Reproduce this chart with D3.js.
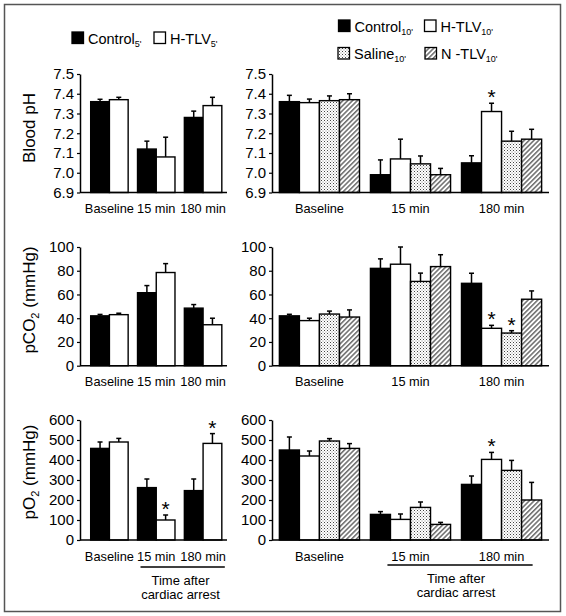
<!DOCTYPE html>
<html><head><meta charset="utf-8">
<script src="https://cdn.jsdelivr.net/npm/d3@7"></script>
<style>body{margin:0;background:#fff}svg{display:block}text{font-family:"Liberation Sans",Arial,sans-serif;fill:#000}</style>
</head><body><svg id="c" width="566" height="616"></svg>
<script>
const groups = ["Baseline", "15 min", "180 min"];
const seriesLeft = ["Control5", "HTLV5"];
const seriesRight = ["Control10", "HTLV10", "Saline10", "NTLV10"];

// Blood pH
const phControl5 = [7.36, 7.12, 7.28], phControl5Err = [0.012, 0.04, 0.032];
const phHTLV5 = [7.37, 7.08, 7.34], phHTLV5Err = [0.012, 0.10, 0.042];
const phControl10 = [7.36, 6.99, 7.05], phControl10Err = [0.032, 0.075, 0.036];
const phHTLV10 = [7.355, 7.07, 7.31], phHTLV10Err = [0.018, 0.10, 0.042];
const phSaline10 = [7.365, 7.045, 7.16], phSaline10Err = [0.024, 0.04, 0.05];
const phNTLV10 = [7.37, 6.99, 7.17], phNTLV10Err = [0.03, 0.032, 0.05];
// pCO2
const co2Control5 = [42, 61.5, 48.5], co2Control5Err = [1.2, 6, 3];
const co2HTLV5 = [43, 78.5, 34.5], co2HTLV5Err = [1.2, 7.5, 5.5];
const co2Control10 = [42, 82, 69.4], co2Control10Err = [1.3, 8, 8.5];
const co2HTLV10 = [38, 85.5, 31.5], co2HTLV10Err = [2, 14.5, 2.5];
const co2Saline10 = [43.5, 71, 27.5], co2Saline10Err = [2.5, 7, 2];
const co2NTLV10 = [41, 83.5, 56], co2NTLV10Err = [6, 10, 7];
// pO2
const o2Control5 = [458, 262, 247], o2Control5Err = [32, 43, 58];
const o2HTLV5 = [490, 100, 483], o2HTLV5Err = [18, 25, 49];
const o2Control10 = [450, 128, 278], o2Control10Err = [65, 14, 42];
const o2HTLV10 = [420, 103, 403], o2HTLV10Err = [25, 27, 35];
const o2Saline10 = [495, 163, 348], o2Saline10Err = [12, 27, 50];
const o2NTLV10 = [458, 78, 200], o2NTLV10Err = [24, 10, 88];

// significance stars: [series, group]
const starsPhRight = [["HTLV10", "180 min"]];
const starsCo2Right = [["HTLV10", "180 min"], ["Saline10", "180 min"]];
const starsO2Left = [["HTLV5", "15 min"], ["HTLV5", "180 min"]];
const starsO2Right = [["HTLV10", "180 min"]];

const phTicks = [6.9, 7.0, 7.1, 7.2, 7.3, 7.4, 7.5];
const co2Ticks = [0, 20, 40, 60, 80, 100];
const o2Ticks = [0, 100, 200, 300, 400, 500, 600];

const svg = d3.select("#c");
const defs = svg.append("defs");
const dots = defs.append("pattern").attr("id", "dots").attr("patternUnits", "userSpaceOnUse").attr("width", 3).attr("height", 3);
dots.append("rect").attr("width", 3).attr("height", 3).attr("fill", "#fff");
dots.append("rect").attr("x", 0).attr("y", 0).attr("width", 1).attr("height", 1).attr("fill", "#444");
dots.append("rect").attr("x", 1.5).attr("y", 1.5).attr("width", 1).attr("height", 1).attr("fill", "#888");
const hatch = defs.append("pattern").attr("id", "hatch").attr("patternUnits", "userSpaceOnUse").attr("width", 3.4).attr("height", 3.4).attr("patternTransform", "rotate(45)");
hatch.append("rect").attr("width", 3.4).attr("height", 3.4).attr("fill", "#fff");
hatch.append("line").attr("x1", 0.8).attr("y1", 0).attr("x2", 0.8).attr("y2", 3.4).attr("stroke", "#333").attr("stroke-width", 1.1);

const fills = {Control5: "#000", HTLV5: "#fff", Control10: "#000", HTLV10: "#fff", Saline10: "url(#dots)", NTLV10: "url(#hatch)"};

// outer border
svg.append("rect").attr("x", 4.5).attr("y", 4.5).attr("width", 556).attr("height", 607).attr("fill", "none").attr("stroke", "#555").attr("stroke-width", 1.5);

function panel(opt) {
  const g = svg.append("g");
  const y = d3.scaleLinear().domain(opt.domain).range([opt.yBottom, opt.yTop]);
  const x0 = d3.scaleBand().domain(groups).range(opt.xRange).paddingInner(opt.pi).paddingOuter(opt.po);
  const x1 = d3.scaleBand().domain(opt.series).range([0, x0.bandwidth()]);
  const yAxis = d3.axisLeft(y).tickValues(opt.ticks).tickSizeInner(3).tickSizeOuter(0).tickPadding(3).tickFormat(opt.fmt);
  const ag = g.append("g").attr("transform", `translate(${opt.axisX},0)`).call(yAxis);
  ag.selectAll("text").style("font-size", "15px").attr("fill", "#000");
  ag.selectAll("line").attr("stroke", "#000").attr("stroke-width", 1.2);
  ag.select(".domain").attr("stroke", "#000").attr("stroke-width", 1.5);
  // bars
  opt.series.forEach((s, si) => {
    const vals = opt.values[si], errs = opt.errs[si];
    groups.forEach((gr, gi) => {
      const bx = x0(gr) + x1(s), bw = x1.bandwidth();
      const top = y(vals[gi]), et = y(vals[gi] + errs[gi]);
      const cx = bx + bw / 2;
      g.append("line").attr("x1", cx).attr("x2", cx).attr("y1", top).attr("y2", et).attr("stroke", "#000").attr("stroke-width", 1.5);
      g.append("line").attr("x1", cx - 2.5).attr("x2", cx + 2.5).attr("y1", et).attr("y2", et).attr("stroke", "#000").attr("stroke-width", 1.5);
      g.append("rect").attr("x", bx).attr("y", top).attr("width", bw).attr("height", opt.yBottom - top)
        .attr("fill", fills[s]).attr("stroke", "#000").attr("stroke-width", 1.4);
    });
  });
  // x baseline
  g.append("line").attr("x1", opt.axisX).attr("x2", opt.axisEnd).attr("y1", opt.yBottom).attr("y2", opt.yBottom).attr("stroke", "#000").attr("stroke-width", 1.6);
  // stars
  opt.stars.forEach(([s, gr]) => {
    const si = opt.series.indexOf(s), gi = groups.indexOf(gr);
    const v = opt.values[si][gi] + opt.errs[si][gi];
    g.append("text").attr("x", x0(gr) + x1(s) + x1.bandwidth() / 2).attr("y", y(v) + 1)
      .attr("text-anchor", "middle").style("font-size", "21px").text("*");
  });
  // x labels
  groups.forEach(gr => {
    g.append("text").attr("x", x0(gr) + x0.bandwidth() / 2).attr("y", opt.yBottom + 20.5)
      .attr("text-anchor", "middle").style("font-size", "12.8px").text(gr);
  });
  return {x0, y};
}

const leftX = {xRange: [86, 226.5], pi: 0.2, po: 0.1, axisX: 80, axisEnd: 227, series: seriesLeft};
const rightX = {xRange: [273, 548], pi: 0.12, po: 0.07, axisX: 272, axisEnd: 549, series: seriesRight};
const phRow = {domain: [6.9, 7.5], yTop: 74, yBottom: 192.5, ticks: phTicks, fmt: d3.format(".1f")};
const co2Row = {domain: [0, 100], yTop: 247, yBottom: 365.7, ticks: co2Ticks, fmt: d3.format("d")};
const o2Row = {domain: [0, 600], yTop: 420, yBottom: 540, ticks: o2Ticks, fmt: d3.format("d")};

panel({...leftX, ...phRow, values: [phControl5, phHTLV5], errs: [phControl5Err, phHTLV5Err], stars: []});
panel({...rightX, ...phRow, values: [phControl10, phHTLV10, phSaline10, phNTLV10], errs: [phControl10Err, phHTLV10Err, phSaline10Err, phNTLV10Err], stars: starsPhRight});
panel({...leftX, ...co2Row, values: [co2Control5, co2HTLV5], errs: [co2Control5Err, co2HTLV5Err], stars: []});
panel({...rightX, ...co2Row, values: [co2Control10, co2HTLV10, co2Saline10, co2NTLV10], errs: [co2Control10Err, co2HTLV10Err, co2Saline10Err, co2NTLV10Err], stars: starsCo2Right});
const pl = panel({...leftX, ...o2Row, values: [o2Control5, o2HTLV5], errs: [o2Control5Err, o2HTLV5Err], stars: starsO2Left});
const pr = panel({...rightX, ...o2Row, values: [o2Control10, o2HTLV10, o2Saline10, o2NTLV10], errs: [o2Control10Err, o2HTLV10Err, o2Saline10Err, o2NTLV10Err], stars: starsO2Right});

// y titles
function ytitle(cy, parts) {
  const t = svg.append("text").attr("transform", `translate(35,${cy}) rotate(-90)`).attr("text-anchor", "middle").style("font-size", "17px");
  parts.forEach(p => {
    const ts = t.append("tspan").text(p.t);
    if (p.sub) ts.style("font-size", "11px").attr("dy", 4);
    if (p.after) ts.attr("dy", -4);
  });
}
ytitle(128, [{t: "Blood pH"}]);
ytitle(300, [{t: "pCO"}, {t: "2", sub: true}, {t: " (mmHg)", after: true}]);
ytitle(472, [{t: "pO"}, {t: "2", sub: true}, {t: " (mmHg)", after: true}]);

// time after cardiac arrest
function timeNote(x1, x2, ly, cx) {
  svg.append("line").attr("x1", x1).attr("x2", x2).attr("y1", ly).attr("y2", ly).attr("stroke", "#000").attr("stroke-width", 1.3);
  svg.append("text").attr("x", cx).attr("y", ly + 18).attr("text-anchor", "middle").style("font-size", "13px").text("Time after");
  svg.append("text").attr("x", cx).attr("y", ly + 32).attr("text-anchor", "middle").style("font-size", "13px").text("cardiac arrest");
}
timeNote(pl.x0("15 min") + 3, pl.x0("180 min") + pl.x0.bandwidth() + 3, 567, 180.5);
timeNote(pr.x0("15 min") + 17, pr.x0("180 min") + pr.x0.bandwidth() - 9, 565, 456);

// legends
function legendItem(x, y, fill, label, sub) {
  svg.append("rect").attr("x", x).attr("y", y - 11.5).attr("width", 11.5).attr("height", 11.5).attr("fill", fill).attr("stroke", "#000").attr("stroke-width", 1.3);
  const t = svg.append("text").attr("x", x + 16).attr("y", y).style("font-size", "14.5px");
  t.append("tspan").text(label);
  t.append("tspan").style("font-size", "9px").attr("dy", 3).text(sub);
}
legendItem(72, 43.5, "#000", "Control", "5'");
legendItem(154, 43.5, "#fff", "H-TLV", "5'");
legendItem(338.5, 31.5, "#000", "Control", "10'");
legendItem(424.5, 31.5, "#fff", "H-TLV", "10'");
legendItem(338, 59, "url(#dots)", "Saline", "10'");
legendItem(425, 59, "url(#hatch)", "N -TLV", "10'");
</script></body></html>
